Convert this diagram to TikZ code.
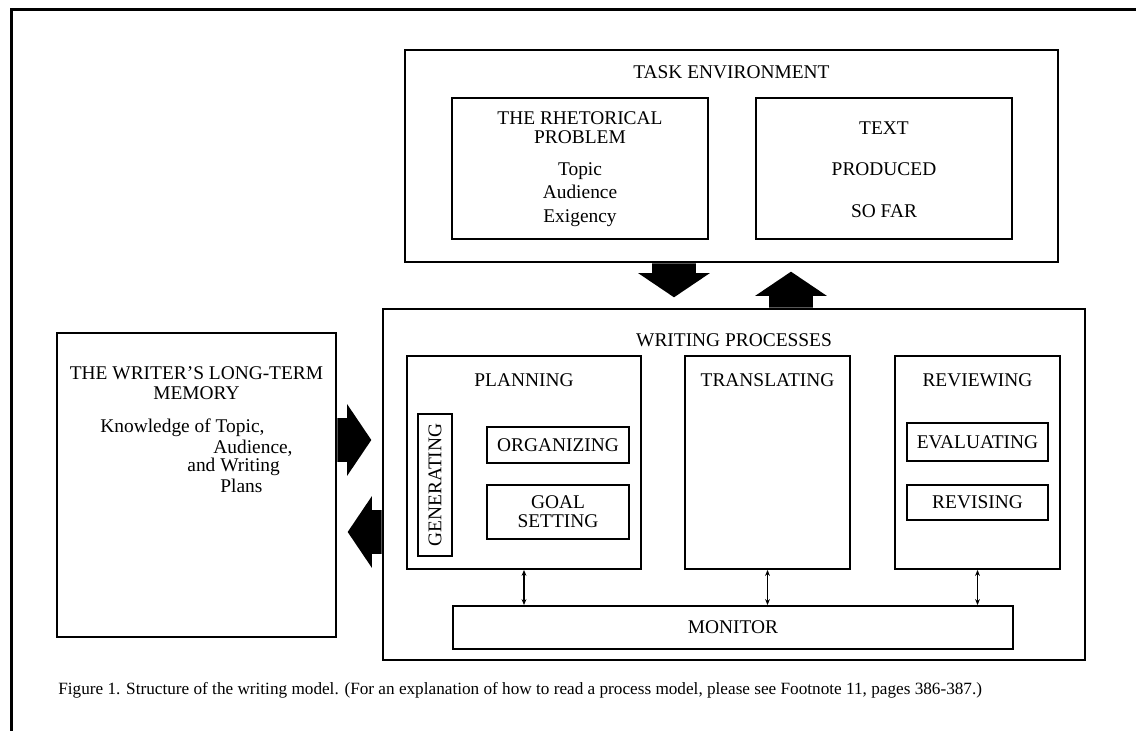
\documentclass[tikz,border=0pt]{standalone}
\usepackage{fontspec}
\setmainfont{Liberation Serif}
\usetikzlibrary{fit,shapes.arrows,arrows.meta}

\begin{document}
\begin{tikzpicture}[x=0.5pt,y=-0.5pt,
  boxnode/.style={draw,line width=0.9pt,inner sep=0pt},
  mytext/.style={inner sep=0pt,align=center,font=\fontsize{9.7}{11.6}\selectfont},
  bigarrow/.style={single arrow,fill=black,inner xsep=0pt,inner ysep=10.75pt,
    single arrow head extend=7pt,single arrow tip angle=112,minimum height=17pt},
  vertarrow/.style={bigarrow,inner xsep=10.75pt,inner ysep=0pt},
  twoway/.style={{Stealth[length=3pt,width=2.4pt]}-{Stealth[length=3pt,width=2.4pt]},line width=0.6pt}]
\useasboundingbox (0,0) rectangle (1136,731);
\clip (0,0) rectangle (1136,731);
\draw[line width=1.5pt] (11,10) rectangle (1160,760);

\node[boxnode,fit={(405,50) (1058,262)}] (taskenv) {};
\node[mytext] (taskenvlbl) at (taskenv.north |- 0,72) {TASK ENVIRONMENT};
\node[boxnode,fit={(452,98) (708,239)}] (rhet) {};
\node[mytext,font=\fontsize{9.7}{9.5}\selectfont] (rhetlbl) at (rhet.north |- 0,127.5) {THE RHETORICAL\\PROBLEM};
\node[mytext,font=\fontsize{9.7}{11.75}\selectfont] (rhetlist) at (rhet.north |- 0,194.5) {Topic\\Audience\\Exigency};
\node[boxnode,fit={(756,98) (1012,239)}] (textsofar) {};
\node[mytext,font=\fontsize{9.7}{20.75}\selectfont] (textsofarlbl) at (textsofar.center |- 0,169.5) {TEXT\\PRODUCED\\SO FAR};

\node[boxnode,fit={(57,333) (336,637)}] (ltm) {};
\node[mytext,font=\fontsize{9.7}{10}\selectfont] (ltmlbl) at (ltm.north |- 0,383) {THE WRITER'S LONG-TERM\\MEMORY};
\foreach \txt/\xx/\yy [count=\i] in {{Knowledge of Topic,}/100/428,{Audience,}/213/448,{and Writing}/187/467,{Plans}/220/486}
  {\node[mytext,anchor=west] (know\i) at (\xx,\yy) {\txt};}

\node[boxnode,fit={(383,309) (1085,660)}] (wp) {};
\node[mytext] (wplbl) at (wp.north |- 0,340) {WRITING PROCESSES};
\foreach \nm/\xa/\xb/\lbl in {plan/407/641/PLANNING,trans/685/850/TRANSLATING,review/895/1060/REVIEWING}
  {\node[boxnode,fit={(\xa,356) (\xb,569)}] (\nm) {};
   \node[mytext] (\nm lbl) at (\nm.north |- 0,380) {\lbl};}
\node[boxnode,fit={(418,414) (452,556)}] (gen) {};
\node[mytext,rotate=90] (genlbl) at (gen.center) {GENERATING};
\node[boxnode,fit={(487,427) (629,463)}] (organ) {};
\node[mytext] (organlbl) at (organ.center) {ORGANIZING};
\node[boxnode,fit={(487,485) (629,539)}] (goal) {};
\node[mytext,font=\fontsize{9.7}{9.5}\selectfont] (goallbl) at (goal.center) {GOAL\\SETTING};
\node[boxnode,fit={(907,423) (1048,461)}] (evalb) {};
\node[mytext] (evallbl) at (evalb.center) {EVALUATING};
\node[boxnode,fit={(907,485) (1048,520)}] (revis) {};
\node[mytext] (revislbl) at (revis.center) {REVISING};
\node[boxnode,fit={(453,606) (1013,649)}] (monitor) {};
\node[mytext] (monitorlbl) at (monitor.center) {MONITOR};
\foreach \nm in {plan,trans,review}
  {\draw[twoway] (\nm.south) -- (\nm.south |- monitor.north);}

\node[vertarrow,anchor=tail,shape border rotate=270] (down) at (taskenv.south -| 674,0) {};
\node[vertarrow,anchor=tail,shape border rotate=90,minimum height=18pt] (up) at (wp.north -| 791,0) {};
\node[bigarrow,anchor=tail] (right) at (ltm.east |- 0,440) {};
\node[bigarrow,anchor=tail,shape border rotate=180] (left) at (wp.west |- 0,532) {};

\node[mytext,anchor=west,font=\fontsize{8.6}{10}\selectfont] (caption) at (58,690)
  {Figure 1. Structure of the writing model. (For an explanation of how to read a process model, please see Footnote 11, pages 386-387.)};
\end{tikzpicture}
\end{document}
